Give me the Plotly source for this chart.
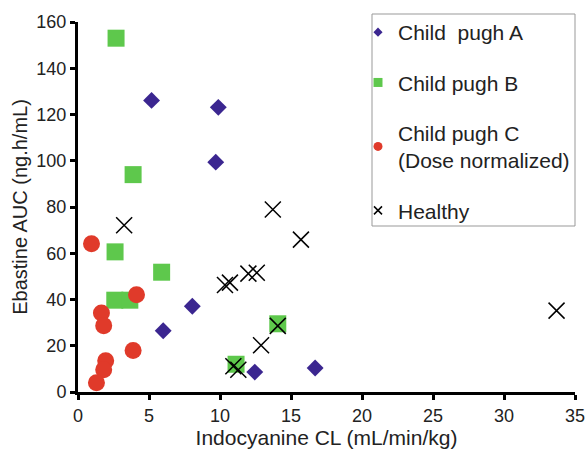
import plotly.graph_objects as go

# Child pugh A
a_x = [5.18, 9.88, 9.70, 6.00, 8.05, 12.45, 16.70]
a_y = [126.1, 123.1, 99.4, 26.5, 37.1, 8.6, 10.4]
# Child pugh B
b_x = [2.68, 3.88, 2.61, 5.89, 2.59, 3.65, 11.13, 14.07]
b_y = [153.0, 94.0, 60.6, 51.8, 39.7, 39.7, 12.0, 29.5]
# Child pugh C (dose normalized)
c_x = [0.95, 4.12, 1.65, 1.81, 3.88, 1.95, 1.81, 1.30]
c_y = [64.1, 42.1, 34.2, 28.7, 17.9, 13.5, 9.6, 4.0]
# Healthy
h_x = [3.25, 13.72, 15.70, 33.70, 10.35, 10.70, 12.00, 12.59, 12.89, 14.07, 10.94, 11.29]
h_y = [72.1, 78.9, 65.9, 35.2, 46.3, 47.3, 51.2, 51.6, 20.2, 28.6, 11.1, 9.6]

names = ["Child\u00a0 pugh A", "Child pugh B", "Child pugh C<br>(Dose normalized)", "Healthy"]
xticks = [0, 5, 10, 15, 20, 25, 30, 35]
yticks = [0, 20, 40, 60, 80, 100, 120, 140, 160]
purple = "#3b2690"
green = "#5ec84c"
red = "#e03a2a"

fig = go.Figure()
fig.add_trace(go.Scatter(x=b_x, y=b_y, mode="markers", showlegend=False,
                         marker=dict(symbol="square", size=17, color=green)))
fig.add_trace(go.Scatter(x=c_x, y=c_y, mode="markers", showlegend=False,
                         marker=dict(symbol="circle", size=17, color=red)))
fig.add_trace(go.Scatter(x=a_x, y=a_y, mode="markers", showlegend=False,
                         marker=dict(symbol="diamond", size=13, color=purple)))
fig.add_trace(go.Scatter(x=h_x, y=h_y, mode="markers", showlegend=False,
                         marker=dict(symbol="x-thin", size=16, color="black",
                                     line=dict(color="black", width=1.5))))

leg = [
    (names[0], dict(symbol="diamond", size=7, color=purple)),
    (names[1], dict(symbol="square", size=9, color=green)),
    (names[2], dict(symbol="circle", size=9, color=red)),
    (names[3], dict(symbol="x-thin", size=8, color="black", line=dict(color="black", width=1.5))),
]
for i, (nm, mk) in enumerate(leg):
    fig.add_trace(go.Scatter(x=[None], y=[None], mode="markers", name=nm,
                             legendgroup=str(i), marker=mk))

font = "Liberation Sans, Arial, Helvetica, sans-serif"
axis_common = dict(showgrid=False, zeroline=False, showline=True, linecolor="black",
                   linewidth=3, ticks="outside", ticklen=5, tickwidth=3, tickcolor="black",
                   automargin=False, ticklabeloverflow="allow",
                   tickfont=dict(size=18, color="#222", family=font))
fig.update_layout(
    width=585, height=452,
    margin=dict(l=78, r=10, t=22, b=60),
    plot_bgcolor="white", paper_bgcolor="white",
    font=dict(family=font, size=18, color="#222"),
    xaxis=dict(range=[0, 35], tickvals=xticks,
               title=dict(text="Indocyanine CL (mL/min/kg)", font=dict(size=21), standoff=6),
               **axis_common),
    yaxis=dict(range=[0, 160], tickvals=yticks,
               title=dict(text="Ebastine AUC (ng.h/mL)", font=dict(size=20), standoff=4),
               **axis_common),
    xaxis2=dict(range=[0, 35], overlaying="x", side="bottom", anchor="y", showgrid=False,
                zeroline=False, showline=False, showticklabels=False, ticks="inside",
                ticklen=4, tickwidth=3, tickcolor="black", tickvals=xticks),
    legend=dict(x=(358 - 78) / 497, y=(392 - 12) / 370, xanchor="left", yanchor="top",
                borderwidth=0, bgcolor="rgba(0,0,0,0)",
                font=dict(size=21, color="#222", family=font),
                tracegroupgap=20, itemwidth=30, traceorder="grouped"),
    shapes=[dict(type="rect", xref="paper", yref="paper",
                 x0=(372 - 78) / 497, x1=(575 - 78) / 497,
                 y0=(392 - 226) / 370, y1=(392 - 14) / 370,
                 line=dict(color="#999", width=1), fillcolor="white", layer="below")],
)
fig.write_html("out.html")
